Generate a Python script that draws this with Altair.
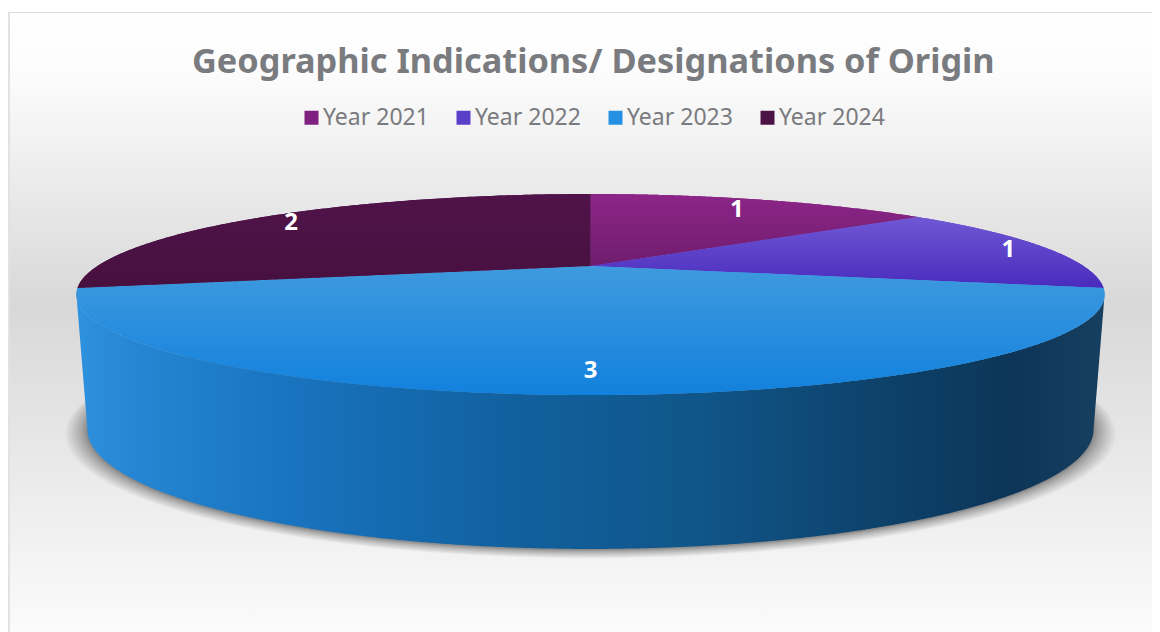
import altair as alt
import numpy as np
import pandas as pd

TITLE = "Geographic Indications/ Designations of Origin"
years = ["Year 2021", "Year 2022", "Year 2023", "Year 2024"]
values = [1, 1, 3, 2]
solid = ["#7f2180", "#5a3fc8", "#2490e2", "#4c1246"]
tops = ["#8d2588", "#6f58d4", "#3f9ade", "#50134a"]
bottoms = ["#6f1d6e", "#4a2bbd", "#1281dd", "#47103f"]
label_radius = [0.83, 0.92, 0.85, 0.90]
wall_stops = [(0.0, "#2f93e0"), (0.03, "#2a8ad8"), (0.1, "#2280cc"), (0.22, "#1872bd"), (0.42, "#11619f"),
              (0.61, "#105588"), (0.8, "#0d4068"), (0.91, "#0c3558"), (1.0, "#163f60")]
bg_stops = [(0.0, "#ffffff"), (0.1, "#fcfcfc"), (0.47, "#d8d8d8"), (1.0, "#fbfbfb")]

FONT = "Noto Sans"
GREY = "#7a7b7f"
W, H, TOP = 1144, 564, 68
CX = 590.5
K = 0.2836
TOP_FACE = dict(y0=266.0, c=92.4, a=493.0)
BOTTOM_FACE = dict(y0=395.4, c=110.0, a=482.4)


def project(theta, r, face, grow=0.0, drop=0.0):
    X, Y = r * np.sin(theta), r * np.cos(theta)
    d = 1 + K * Y
    return CX + (face["a"] + grow) * X / d, face["y0"] + drop - (face["c"] + grow * 0.2) * Y / d


def sections(px, py):
    """Vertical sections of a polygon that every vertical line meets in one interval."""
    px, py = np.asarray(px), np.asarray(py)
    qx, qy = np.roll(px, -1), np.roll(py, -1)
    rows = []
    for x in np.unique(px):
        ys = []
        for a, b, c, d in zip(px, py, qx, qy):
            if min(a, c) <= x <= max(a, c):
                ys += [b, d] if a == c else [b + (d - b) * (x - a) / (c - a)]
        rows.append((x, min(ys), max(ys)))
    return pd.DataFrame(rows, columns=["x", "y", "y2"])


xs = alt.Scale(domain=[8, 8 + W], nice=False, zero=False)
ys = alt.Scale(domain=[TOP + H, TOP], nice=False, zero=False)


def enc(chart, **extra):
    return chart.encode(
        x=alt.X("x:Q", scale=xs, axis=None),
        y=alt.Y("y:Q", scale=ys, axis=None, stack=None),
        y2="y2:Q",
        **extra,
    )


def gradient(stops, horizontal=False):
    return alt.LinearGradient(
        gradient="linear",
        stops=[alt.GradientStop(offset=o, color=c) for o, c in stops],
        x1=0, y1=0, x2=1 if horizontal else 0, y2=0 if horizontal else 1,
    )


# Slice geometry derives from the values
total = sum(values)
edges = np.cumsum([0] + values) / total * 2 * np.pi
wedges = []
for i, yr in enumerate(years):
    th = np.linspace(edges[i], edges[i + 1], 160)
    ax, ay = project(th, 1.0, TOP_FACE)
    cx, cy = project(np.array([0.0]), 0.0, TOP_FACE)
    d = sections(np.r_[cx, ax], np.r_[cy, ay])
    d["year"] = yr
    wedges.append(d)

# Background and frame
bg = pd.DataFrame({"x": [10, 8 + W], "y": [13, 13], "y2": [TOP + H, TOP + H]})
layers = [enc(alt.Chart(bg).mark_area(orient="vertical", fill=gradient(bg_stops)))]
frame_l = pd.DataFrame({"x": [8, 10], "y": [12, 12], "y2": [TOP + H, TOP + H]})
frame_t = pd.DataFrame({"x": [8, 8 + W], "y": [12, 12], "y2": [13, 13]})
layers.append(enc(alt.Chart(frame_l).mark_area(orient="vertical", fill="#e2e2e2")))
layers.append(enc(alt.Chart(frame_t).mark_area(orient="vertical", fill="#dcdcdc")))

# Soft shadow under the disc
circle = np.linspace(0, 2 * np.pi, 240, endpoint=False)
for t in np.linspace(1, 0, 16) ** 1.5:
    sx, sy = project(circle, 1.0, BOTTOM_FACE, grow=21 * t, drop=1 + 2.5 * t)
    d = sections(sx, sy)
    layers.append(enc(alt.Chart(d).mark_area(orient="vertical", fill="#000000", opacity=0.03)))

# Side wall of the largest slice: from silhouette to silhouette along the front
ext = np.arccos(-K)
th = np.linspace(ext, 2 * np.pi - ext, 300)
tx, ty = project(th, 1.0, TOP_FACE)
bx, by = project(th, 1.0, BOTTOM_FACE)
wall = sections(np.r_[tx, bx[::-1]], np.r_[ty, by[::-1]])
layers.append(enc(alt.Chart(wall).mark_area(orient="vertical", fill=gradient(wall_stops, True))))

# Top faces: solid base carries the legend, gradient on top
base = pd.concat(wedges, ignore_index=True)
layers.append(
    enc(
        alt.Chart(base).mark_area(orient="vertical"),
        color=alt.Color(
            "year:N",
            scale=alt.Scale(domain=years, range=solid),
            legend=alt.Legend(
                title=None, orient="none", direction="horizontal", columns=4,
                legendX=292, legendY=38,
                symbolType="square", symbolSize=196, symbolStrokeWidth=0,
                labelFont=FONT, labelFontSize=23, labelColor=GREY,
                labelOffset=0, columnPadding=23, padding=0,
            ),
        ),
    )
)
for i, d in enumerate(wedges):
    layers.append(
        enc(alt.Chart(d).mark_area(orient="vertical", fill=gradient([(0, tops[i]), (1, bottoms[i])])))
    )

# Data labels
mid = (edges[:-1] + edges[1:]) / 2
lx, ly = [], []
for m, r in zip(mid, label_radius):
    a, b = project(np.array([m]), r, TOP_FACE)
    lx.append(float(a[0]))
    ly.append(float(b[0]))
labels = pd.DataFrame({"x": lx, "y": ly, "value": values})
layers.append(
    alt.Chart(labels)
    .mark_text(font=FONT, fontSize=24, fontWeight="bold", color="#ffffff", align="center", baseline="middle", dy=1.5)
    .encode(
        x=alt.X("x:Q", scale=xs, axis=None),
        y=alt.Y("y:Q", scale=ys, axis=None),
        text="value:Q",
    )
)

chart = (
    alt.layer(*layers)
    .properties(
        width=W,
        height=H,
        padding={"left": 0, "right": 0, "top": TOP - 8, "bottom": 0},
        autosize=alt.AutoSizeParams(type="none"),
        title=alt.TitleParams(
            TITLE, anchor="start", frame="group", dx=184, dy=68, offset=0,
            font=FONT, fontSize=34.3, fontWeight="bold", color=GREY,
        ),
    )
    .configure_view(stroke=None)
)
chart.save("out.html", embed_options={"renderer": "svg", "actions": False})
